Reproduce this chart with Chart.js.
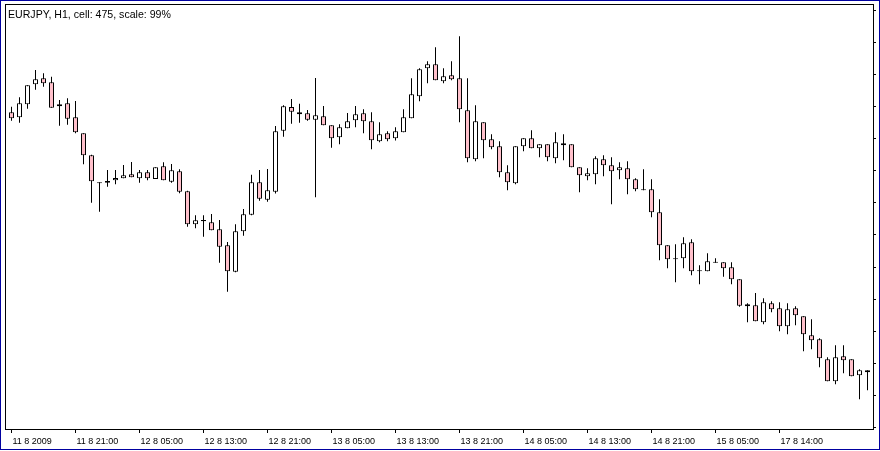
<!DOCTYPE html>
<html>
<head>
<meta charset="utf-8">
<script src="https://cdn.jsdelivr.net/npm/chart.js@4/dist/chart.umd.min.js"></script>
<style>
  html, body { margin: 0; padding: 0; background: #fff; }
  #wrap { position: absolute; left: 0; top: 0; width: 880px; height: 450px; box-sizing: border-box; border: 1px solid #0000a0; }
  canvas { display: block; }
</style>
</head>
<body>
<div id="wrap"><canvas id="chart" width="878" height="448"></canvas></div>
<script>
/* DATA - EURJPY H1, one value per candle */
const title = "EURJPY, H1, cell: 475, scale: 99%";

const open = [
  136.908, 136.830, 137.033, 137.344, 137.438, 137.375, 137.002, 137.049, 136.830, 136.582,
  136.240, 135.819, 135.813, 135.850, 135.882, 135.944, 135.882, 135.975, 135.871, 136.068,
  135.829, 135.991, 135.680, 135.166, 135.233, 135.197, 135.088, 134.840, 134.429, 135.057,
  135.315, 135.819, 135.549, 135.674, 136.622, 136.991, 136.877, 136.893, 136.793, 136.846,
  136.707, 136.519, 136.660, 136.784, 136.893, 136.769, 136.458, 136.582, 136.504, 136.597,
  136.815, 137.158, 137.593, 137.655, 137.391, 137.485, 137.438, 136.939, 136.177, 136.753,
  136.488, 136.380, 135.975, 135.804, 136.380, 136.504, 136.349, 136.411, 136.193, 136.427,
  136.411, 136.052, 135.913, 135.944, 136.177, 136.084, 136.006, 136.037, 135.866, 135.710,
  135.710, 135.352, 134.840, 134.637, 134.637, 134.886, 134.450, 134.435, 134.583, 134.574,
  134.496, 134.310, 133.890, 133.906, 133.641, 133.937, 133.859, 133.579, 133.859, 133.734,
  133.439, 133.376, 133.065, 132.723, 133.112, 133.065, 132.817, 132.894
];
const high = [
  136.996, 137.142, 137.329, 137.567, 137.516, 137.463, 137.100, 137.127, 137.084, 136.582,
  136.249, 135.819, 136.011, 136.011, 136.088, 136.135, 136.011, 136.011, 136.052, 136.130,
  136.104, 136.021, 135.689, 135.306, 135.306, 135.326, 135.233, 134.891, 135.166, 135.404,
  135.938, 136.011, 136.026, 136.696, 137.018, 137.116, 137.042, 136.944, 137.443, 137.007,
  136.707, 136.722, 136.897, 137.007, 136.955, 136.908, 136.753, 136.613, 136.675, 136.955,
  137.438, 137.593, 137.702, 137.920, 137.593, 137.702, 138.091, 137.438, 137.018, 136.753,
  136.566, 136.458, 136.084, 136.380, 136.504, 136.628, 136.411, 136.411, 136.597, 136.566,
  136.411, 136.052, 136.037, 136.224, 136.240, 136.208, 136.130, 136.146, 135.882, 136.021,
  135.866, 135.555, 134.840, 134.855, 134.963, 134.932, 134.528, 134.715, 134.637, 134.574,
  134.574, 134.310, 133.937, 134.097, 134.015, 133.968, 133.952, 133.937, 133.890, 133.734,
  133.687, 133.392, 133.096, 133.284, 133.284, 133.065, 132.909, 132.894
];
const low = [
  136.778, 136.747, 136.965, 137.260, 137.307, 136.980, 136.700, 136.716, 136.582, 136.099,
  135.502, 135.362, 135.751, 135.788, 135.882, 135.897, 135.813, 135.850, 135.871, 135.850,
  135.813, 135.649, 135.129, 135.104, 134.973, 135.072, 134.568, 134.118, 134.419, 134.988,
  135.306, 135.533, 135.518, 135.646, 136.529, 136.731, 136.747, 136.778, 135.586, 136.707,
  136.358, 136.411, 136.660, 136.675, 136.582, 136.333, 136.442, 136.458, 136.470, 136.597,
  136.815, 137.080, 137.360, 137.406, 137.360, 137.406, 136.753, 136.130, 136.146, 136.193,
  136.333, 135.897, 135.695, 135.788, 136.302, 136.349, 136.208, 136.146, 136.115, 136.161,
  136.052, 135.664, 135.850, 135.788, 135.913, 135.477, 135.866, 135.633, 135.680, 135.695,
  135.274, 134.605, 134.481, 134.263, 134.481, 134.373, 134.232, 134.435, 134.568, 134.351,
  134.232, 133.884, 133.641, 133.657, 133.610, 133.796, 133.501, 133.454, 133.595, 133.190,
  133.221, 132.940, 132.723, 132.676, 132.848, 132.801, 132.443, 132.583
];
const close = [
  136.815, 137.049, 137.329, 137.422, 137.360, 136.980, 137.033, 136.809, 136.597, 136.240,
  135.835, 135.804, 135.839, 135.887, 135.929, 135.897, 135.975, 135.882, 136.052, 135.850,
  136.006, 135.674, 135.166, 135.228, 135.213, 135.072, 134.818, 134.435, 135.057, 135.321,
  135.819, 135.565, 135.695, 136.613, 137.002, 136.918, 136.908, 136.793, 136.862, 136.707,
  136.504, 136.675, 136.769, 136.877, 136.769, 136.473, 136.566, 136.488, 136.613, 136.830,
  137.189, 137.577, 137.655, 137.406, 137.469, 137.422, 136.955, 136.193, 136.769, 136.473,
  136.364, 135.975, 135.819, 136.380, 136.504, 136.349, 136.411, 136.208, 136.442, 136.396,
  136.052, 135.929, 135.960, 136.193, 136.084, 135.991, 136.052, 135.866, 135.710, 135.695,
  135.352, 134.840, 134.621, 134.621, 134.871, 134.435, 134.435, 134.590, 134.568, 134.481,
  134.310, 133.899, 133.921, 133.657, 133.952, 133.843, 133.579, 133.843, 133.750, 133.454,
  133.361, 133.081, 132.723, 133.096, 133.049, 132.801, 132.894, 132.863
];

/* time axis: candle index of each label */
const tickAt = [0, 8, 16, 24, 32, 40, 48, 56, 64, 72, 80, 88, 96];
const tickLabels = [
  "11 8 2009", "11 8 21:00", "12 8 05:00", "12 8 13:00", "12 8 21:00",
  "13 8 05:00", "13 8 13:00", "13 8 21:00", "14 8 05:00", "14 8 13:00",
  "14 8 21:00", "15 8 05:00", "17 8 14:00"
];
/* price ticks on the right (no labels shown) */
const priceMin = 131.981;
const priceMax = 138.594;
const priceStep = 0.5;

/* candles = floating bars: body [open, close] + wick [low, high] */
const bodies = open.map((o, i) => ({ x: i, y: [o, close[i]] }));
const wicks = low.map((l, i) => ({ x: i, y: [l, high[i]] }));
const bodyColors = open.map((o, i) => close[i] >= o ? "#ffffff" : "#ffc0cb");

/* plot frame + caption */
const frame = {
  id: "frame",
  afterDraw(chart) {
    const { ctx, chartArea: a } = chart;
    ctx.save();
    ctx.strokeStyle = "#000";
    ctx.lineWidth = 1;
    ctx.strokeRect(a.left + 0.5, a.top + 0.5, a.right - a.left, a.bottom - a.top);
    ctx.fillStyle = "#000";
    ctx.font = "10.6px 'Liberation Sans'";
    ctx.textBaseline = "alphabetic";
    ctx.fillText(title, a.left + 3, a.top + 14.3);
    ctx.restore();
  }
};

new Chart(document.getElementById("chart"), {
  type: "bar",
  data: {
    datasets: [
      {
        data: bodies,
        backgroundColor: bodyColors,
        borderColor: "#000",
        borderWidth: 1,
        borderSkipped: false,
        barThickness: 5,
        grouped: false,
        inflateAmount: 0,
        order: 0
      },
      {
        data: wicks,
        backgroundColor: "#000",
        borderWidth: 0,
        barThickness: 1,
        grouped: false,
        inflateAmount: 0,
        order: 1
      }
    ]
  },
  options: {
    responsive: false,
    animation: false,
    layout: { padding: { left: 4, top: 3, right: 0, bottom: 0 } },
    plugins: { legend: { display: false }, tooltip: { enabled: false } },
    scales: {
      x: {
        type: "linear",
        min: -0.8125,
        max: 107.6875,
        offset: false,
        border: { display: false },
        grid: { offset: false, drawOnChartArea: false, drawTicks: true, tickLength: 4, color: "#000" },
        afterBuildTicks: s => { s.ticks = tickAt.map(v => ({ value: v })); },
        afterFit: s => { s.height = 20; },
        ticks: {
          align: "start",
          labelOffset: 1,
          padding: 3,
          maxRotation: 0,
          autoSkip: false,
          color: "#000",
          font: { family: "Liberation Sans", size: 9 },
          callback: v => tickLabels[tickAt.indexOf(v)]
        }
      },
      y: {
        position: "right",
        min: priceMin,
        max: priceMax,
        border: { display: false },
        grid: { drawOnChartArea: false, tickLength: 3, color: "#000" },
        ticks: { display: false, stepSize: priceStep, includeBounds: false },
        afterFit: s => { s.width = 6; }
      }
    }
  },
  plugins: [frame]
});
</script>
</body>
</html>
